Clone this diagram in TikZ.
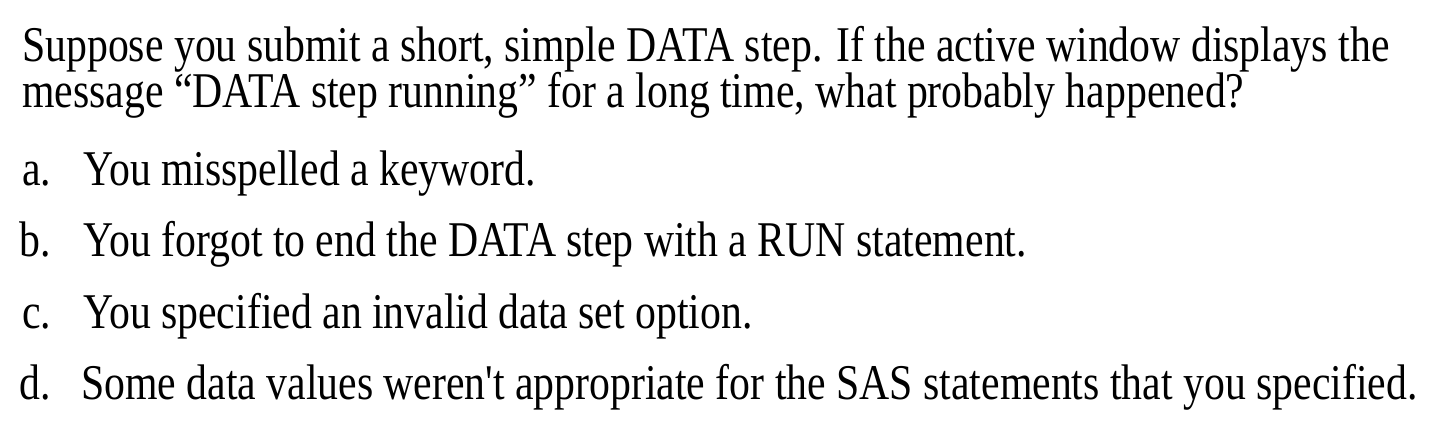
\documentclass[tikz,border=0pt]{standalone}
\usepackage{fontspec}
\setmainfont{Liberation Serif}
\newcommand{\sq}[1]{\scalebox{0.835}[1]{#1}}
\begin{document}
\begin{tikzpicture}[x=1pt,y=-1pt,
  txt/.style={anchor=base west,inner sep=0pt,font=\fontsize{50}{60}\selectfont}]
\useasboundingbox[fill=white] (0,0) rectangle (1442,438);
\node[txt] (q1) at (22,62) {\sq{Suppose you submit a short, simple DATA step. If the active window displays the}};
\node[txt] (q2) at (22,108) {\sq{message “DATA step running” for a long time, what probably happened?}};
\node[txt] (la) at (22,186) {\sq{a.}};
\node[txt] (ta) at (83,186) {\sq{You misspelled a keyword.}};
\node[txt] (lb) at (19,257) {\sq{b.}};
\node[txt] (tb) at (83,257) {\sq{You forgot to end the DATA step with a RUN statement.}};
\node[txt] (lc) at (22,328) {\sq{c.}};
\node[txt] (tc) at (83,328) {\sq{You specified an invalid data set option.}};
\node[txt] (ld) at (19,399) {\sq{d.}};
\node[txt] (td) at (81,399) {\sq{Some data values weren\textquotesingle t appropriate for the SAS statements that you specified.}};
\end{tikzpicture}
\end{document}
